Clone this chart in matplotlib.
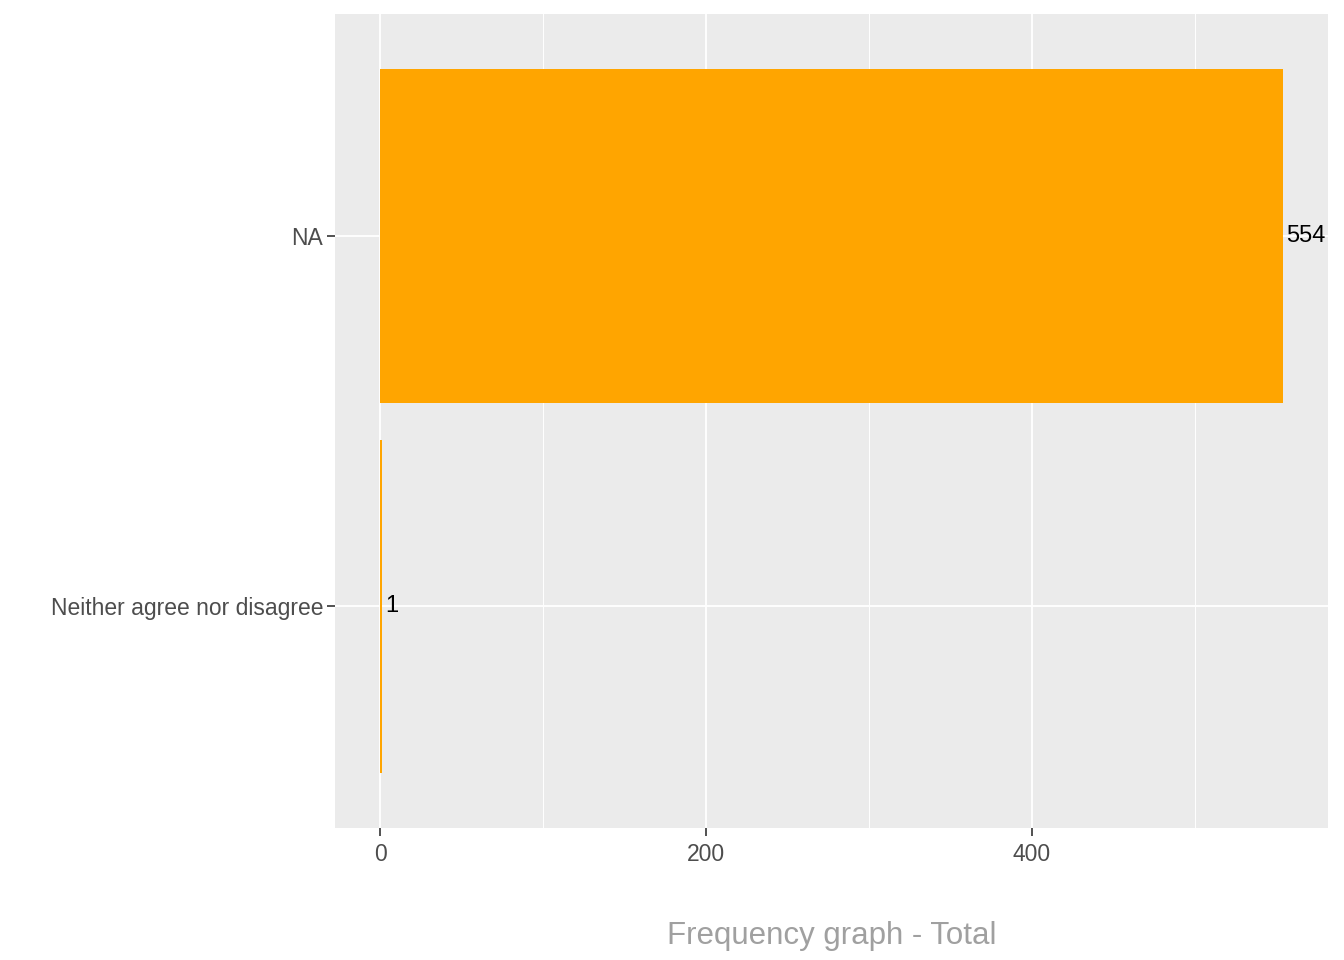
import matplotlib.pyplot as plt

# Data
categories = ["Neither agree nor disagree", "NA"]
counts = [1, 554]

plt.rcParams['font.family'] = ['Liberation Sans', 'DejaVu Sans']

fig = plt.figure(figsize=(13.44, 9.6), dpi=100)
ax = fig.add_axes([335 / 1344, 1 - 828 / 960, (1328 - 335) / 1344, (828 - 14) / 960])

ax.set_facecolor('#EBEBEB')
pos = list(range(1, len(categories) + 1))
ax.barh(pos, counts, height=0.9, color='#FFA500', zorder=3)

for p, c in zip(pos, counts):
    ax.text(c + 2, p, str(c), va='center', ha='left', fontsize=17, color='black', zorder=4)

ax.set_xlim(-27.7, 581.7)
ax.set_ylim(0.4, 2.6)
ax.set_yticks(pos)
ax.set_yticklabels(categories)
ax.set_xticks([0, 200, 400])
ax.set_xticks([100, 300, 500], minor=True)

ax.grid(True, which='major', color='white', linewidth=1.3, zorder=1)
ax.grid(True, which='minor', axis='x', color='white', linewidth=0.7, zorder=1)
ax.set_axisbelow(True)

for s in ax.spines.values():
    s.set_visible(False)

ax.tick_params(axis='both', which='major', colors='#333333', labelcolor='#4D4D4D',
               labelsize=16.5, length=5.5, width=1.2, pad=3)
ax.tick_params(axis='x', which='major', pad=5)
ax.tick_params(axis='x', which='minor', length=0)

ax.set_xlabel("Frequency graph - Total", fontsize=22.5, color='#A0A0A0', labelpad=40)

fig.savefig('out.png', dpi=100)
